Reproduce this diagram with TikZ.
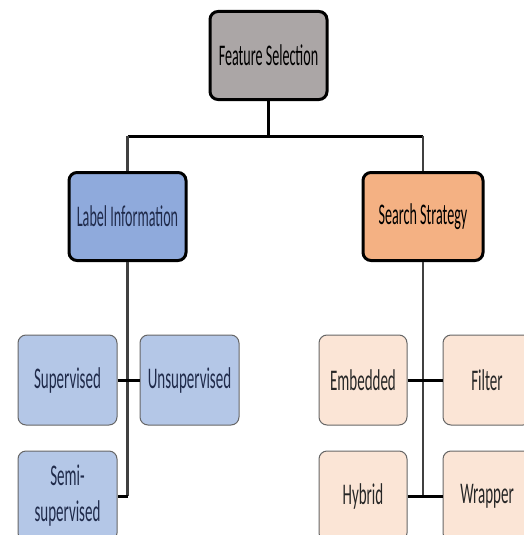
\documentclass[tikz,border=0pt]{standalone}
\usepackage{fontspec}
\setmainfont{Carlito}
\usepackage{graphicx}
\usepackage{tikz}
\usetikzlibrary{positioning}

\definecolor{fsgray}{HTML}{ABA6A6}
\definecolor{liblue}{HTML}{8FAADC}
\definecolor{ssorange}{HTML}{F4B183}
\definecolor{subblue}{HTML}{B4C7E7}
\definecolor{suborange}{HTML}{FBE5D6}
\definecolor{navy}{HTML}{1F2A4A}

\newcommand{\nar}[1]{\scalebox{0.5}[1]{#1}}
\newcommand{\narr}[1]{\scalebox{0.47}[1]{#1}}

\tikzset{
  topbox/.style={draw=black, line width=3pt, rounded corners=8pt, minimum width=117pt,
    minimum height=88pt, inner sep=0pt, font=\fontsize{30}{34}\selectfont},
  subbox/.style={draw=gray!80!black, line width=1pt, rounded corners=8pt, minimum width=99pt,
    minimum height=90pt, inner sep=0pt, align=center, text=navy, font=\fontsize{30}{36}\selectfont},
  trunk/.style={draw=black!75, line width=2.5pt},
  link/.style={draw=black, line width=3pt}
}

\begin{document}
\begin{tikzpicture}[x=1pt, y=-1pt]
    \useasboundingbox (0,0) rectangle (523,535);
    \node[topbox, fill=fsgray] (fs) at (268.5,55.5) {\narr{Feature Selection}};
    \node[topbox, fill=liblue, text=navy] (li) at (127.5,216.5) {\narr{Label Information}};
    \node[topbox, fill=ssorange, minimum width=120pt] (ss) at (423,216.5) {\narr{Search Strategy}};

    \node[subbox, fill=subblue] (sup) at (67.5,380) {\nar{Supervised}};
    \node[subbox, fill=subblue, right=22pt of sup] (uns) {\nar{Unsupervised}};
    \node[subbox, fill=subblue, below=25pt of sup] (semi) {\nar{Semi-}\\\nar{supervised}};

    \node[subbox, fill=suborange, text=black!85, minimum width=88pt] (emb) at (363,380) {\nar{Embedded}};
    \node[subbox, fill=suborange, text=black!85, minimum width=88pt, right=35pt of emb] (fil) {\nar{Filter}};
    \node[subbox, fill=suborange, text=black!85, minimum width=88pt, below=25pt of emb] (hyb) {\nar{Hybrid}};
    \node[subbox, fill=suborange, text=black!85, minimum width=88pt, right=35pt of hyb] (wra) {\nar{Wrapper}};

    \coordinate (bar) at (0,136);
    \draw[link] (fs.south) -- (fs.south |- bar);
    \draw[link] (li.north |- bar) -- (ss.north |- bar);
    \draw[trunk] (li.north) -- (li.north |- bar);
    \draw[trunk] (ss.north) -- (ss.north |- bar);
    \draw[trunk] (li.south) -- (li.south |- semi.east);
    \draw[link] (li.south |- semi.east) -- (semi.east);
    \draw[link] (sup.east) -- (uns.west);
    \draw[trunk] (ss.south) -- (ss.south |- hyb.east);
    \draw[link] (emb.east) -- (fil.west);
    \draw[link] (hyb.east) -- (wra.west);
\end{tikzpicture}
\end{document}
